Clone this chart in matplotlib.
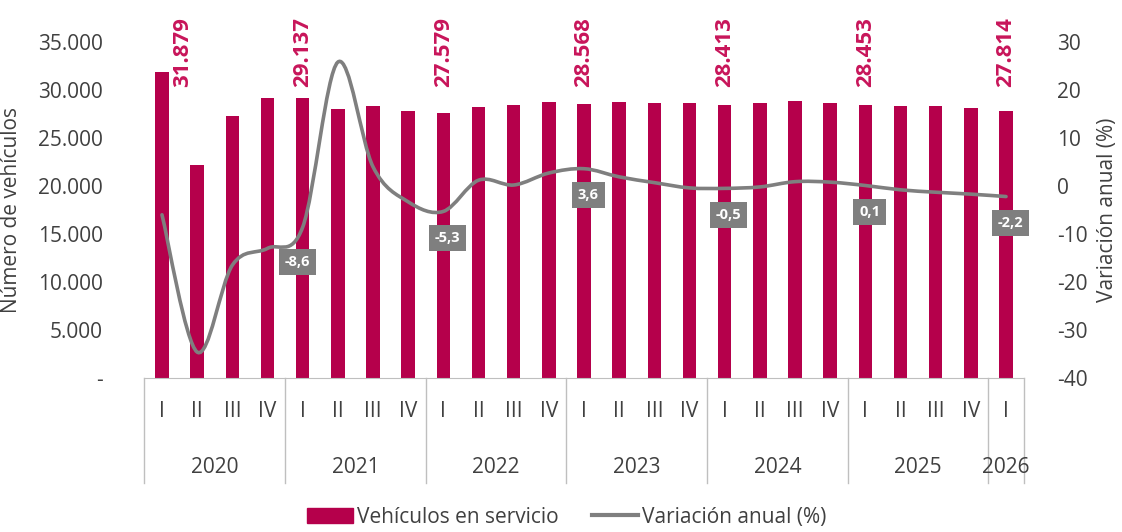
import numpy as np
import matplotlib
matplotlib.use('Agg')
import matplotlib.pyplot as plt
from matplotlib.path import Path
from matplotlib.patches import PathPatch, Patch
from matplotlib.lines import Line2D
import matplotlib.transforms as mtransforms

plt.rcParams['font.family'] = ['Open Sans', 'DejaVu Sans']
plt.rcParams['axes.unicode_minus'] = False

# data
years = ['2020', '2021', '2022', '2023', '2024', '2025', '2026']
quarters = ['I', 'II', 'III', 'IV'] * 6 + ['I']
vehiculos = [31879, 22200, 27300, 29200,
             29137, 28000, 28300, 27850,
             27579, 28270, 28400, 28700,
             28568, 28700, 28600, 28600,
             28413, 28600, 28800, 28600,
             28453, 28300, 28300, 28150,
             27814]
variacion = [-6.0, -34.6, -16.5, -13.0,
             -8.6, 25.8, 4.0, -3.3,
             -5.3, 1.2, 0.2, 2.7,
             3.6, 1.9, 0.7, -0.4,
             -0.5, -0.2, 0.9, 0.8,
             0.1, -0.8, -1.3, -1.7,
             -2.2]

bar_color = '#B5004B'
label_color = '#C8155A'
gray = '#7F7F7F'
text_color = '#404040'

x = np.arange(len(vehiculos))

fig = plt.figure(figsize=(11.22, 5.32), dpi=100)
ax = fig.add_axes([0.1287, 0.2895, 0.7836, 0.6316])
ax.bar(x, vehiculos, width=0.38, color=bar_color, zorder=2)
ax.set_xlim(-0.5, len(x) - 0.5)
ax.set_ylim(0, 35000)
yt = list(range(0, 35001, 5000))
ax.set_yticks(yt)
ax.set_yticklabels(['-' if v == 0 else f'{v:,}'.replace(',', '.') for v in yt])
ax.tick_params(axis='y', length=0, pad=30, labelsize=15, labelcolor=text_color)
ax.set_xticks([])
for s in ['top', 'left', 'right']:
    ax.spines[s].set_visible(False)
ax.spines['bottom'].set_color('#BFBFBF')
ax.set_ylabel('Número de vehículos', fontsize=15, color=text_color)
ax.yaxis.set_label_coords(-0.139, 0.5)

# bar value labels (first quarter of each year)
for i in range(0, len(x), 4):
    dx = 0.6 if i == 0 else 0.0
    ax.text(x[i] + dx, 30300, f'{vehiculos[i]:,}'.replace(',', '.'), rotation=90,
            ha='center', va='bottom', fontsize=16, fontweight='bold',
            color=label_color, clip_on=False)

# multi-level category axis
trans = mtransforms.blended_transform_factory(ax.transData, ax.transAxes)
for i, q in enumerate(quarters):
    ax.text(x[i], -0.1, q, transform=trans, ha='center', va='center',
            fontsize=15, color=text_color)
bounds = [-0.5 + 4 * k for k in range(7)] + [len(x) - 0.5]
for b in bounds:
    ax.plot([b, b], [0, -0.3125], transform=trans, color='#BFBFBF', lw=1, clip_on=False)
for k, yr in enumerate(years):
    c = (bounds[k] + bounds[k + 1]) / 2
    ax.text(c, -0.265, yr, transform=trans, ha='center', va='center',
            fontsize=15, color=text_color)

# right axis: smoothed line
ax2 = ax.twinx()
ax2.set_ylim(-40, 30)
ax2.set_yticks(range(-40, 31, 10))
ax2.tick_params(axis='y', length=0, pad=24, labelsize=15, labelcolor=text_color)
for s in ax2.spines.values():
    s.set_visible(False)
ax2.set_ylabel('Variación anual (%)', fontsize=15, color=text_color)
ax2.yaxis.set_label_coords(1.084, 0.5)

pts = np.column_stack([x, variacion]).astype(float)
verts = [pts[0]]
codes = [Path.MOVETO]
n = len(pts)
for i in range(n - 1):
    p0 = pts[i - 1] if i > 0 else pts[i]
    p1 = pts[i]
    p2 = pts[i + 1]
    p3 = pts[i + 2] if i + 2 < n else pts[i + 1]
    c1 = p1 + (p2 - p0) / 6
    c2 = p2 - (p3 - p1) / 6
    verts += [c1, c2, p2]
    codes += [Path.CURVE4] * 3
ax2.add_patch(PathPatch(Path(verts, codes), facecolor='none', edgecolor=gray,
                        lw=2.6, zorder=3, capstyle='round'))

# value boxes from 2021 I onwards
for i in range(4, len(x), 4):
    off = (-4, -25) if i == 4 else (3, -19)
    ax2.annotate(f'{variacion[i]:.1f}'.replace('.', ','), (x[i], variacion[i]),
                 xytext=off, textcoords='offset points', ha='center', va='center',
                 fontsize=10.5, fontweight='bold', color='white', zorder=4,
                 bbox=dict(boxstyle='square,pad=0.4', fc=gray, ec='none'))

handles = [Patch(color=bar_color), Line2D([0], [0], color=gray, lw=3)]
fig.legend(handles, ['Vehículos en servicio', 'Variación anual (%)'], loc='center',
           bbox_to_anchor=(0.505, 0.028), ncol=2, frameon=False, fontsize=15,
           handlelength=2.2, handletextpad=0.2, columnspacing=1.6,
           labelcolor=text_color)

fig.savefig('out.png', dpi=100)
